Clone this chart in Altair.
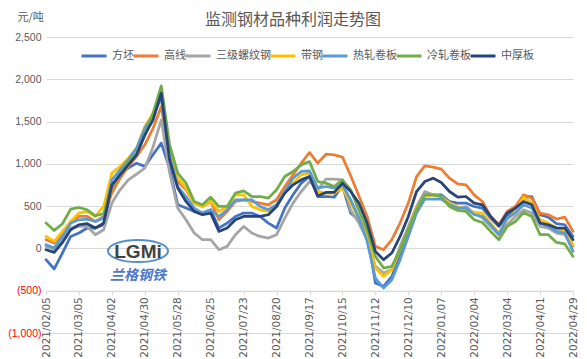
import altair as alt
import pandas as pd

# weekly dates 2021/02/05 .. 2022/04/29
dates = pd.date_range("2021-02-05", "2022-04-29", freq="7D").strftime("%Y/%m/%d").tolist()
tick_labels = ["2021/02/05", "2021/03/05", "2021/04/02", "2021/04/30", "2021/05/28",
               "2021/06/25", "2021/07/23", "2021/08/20", "2021/09/17", "2021/10/15",
               "2021/11/12", "2021/12/10", "2022/01/07", "2022/02/04", "2022/03/04",
               "2022/04/01", "2022/04/29"]
y_ticks = [-1000, -500, 0, 500, 1000, 1500, 2000, 2500]

series_names = ["方坯", "高线", "三级螺纹钢", "带钢", "热轧卷板", "冷轧卷板", "中厚板"]
colors = ["#4472C4", "#ED7D31", "#A5A5A5", "#FFC000", "#5B9BD5", "#70AD47", "#264478"]

fangpi = [-133, -243, -54, 142, 182, 241, 241, 280, 720, 890,
          949, 1008, 970, 1110, 1245, 950, 516, 477, 437, 418,
          457, 241, 300, 378, 418, 418, 378, 300, 241, 477,
          634, 772, 850, 614, 614, 607, 740, 418, 339, 182,
          -409, -449, -330, -94, 182, 457, 634, 634, 634, 555,
          536, 536, 496, 477, 359, 260, 378, 457, 614, 614,
          398, 370, 292, 280, 142]
gaoxian = [103, 64, 182, 300, 378, 378, 319, 378, 654, 831,
           968, 1087, 1225, 1420, 1677, 1100, 791, 693, 536, 496,
           555, 339, 437, 555, 575, 555, 536, 516, 575, 732,
           870, 1008, 1134, 1008, 1114, 1106, 1079, 860, 620, 378,
           24, -15, 103, 300, 536, 850, 977, 961, 937, 831,
           764, 752, 634, 555, 378, 280, 437, 496, 634, 595,
           418, 398, 347, 370, 201]
luowen = [24, -10, 123, 241, 260, 260, 162, 221, 536, 693,
          811, 880, 950, 1200, 1520, 900, 477, 339, 182, 103,
          103, -15, 24, 162, 260, 182, 142, 123, 162, 359,
          536, 673, 791, 693, 820, 820, 811, 450, 300, 103,
          -212, -291, -250, 24, 260, 496, 673, 634, 614, 536,
          477, 496, 418, 359, 260, 162, 280, 378, 457, 418,
          260, 241, 182, 162, 24]
daigang = [142, 83, 201, 319, 418, 437, 378, 496, 890, 968,
           1067, 1185, 1441, 1600, 1800, 1150, 831, 713, 536, 496,
           555, 437, 496, 634, 634, 496, 457, 437, 496, 673,
           772, 870, 890, 673, 654, 654, 713, 536, 360, 142,
           -232, -330, -251, -15, 221, 477, 614, 634, 614, 536,
           496, 457, 425, 418, 300, 182, 339, 437, 607, 536,
           339, 300, 241, 201, 44]
rezha = [44, 5, 142, 300, 339, 347, 319, 359, 811, 929,
         1047, 1185, 1420, 1570, 1780, 1100, 732, 614, 477, 418,
         457, 378, 457, 575, 575, 575, 496, 457, 516, 673,
         831, 910, 918, 713, 732, 713, 752, 575, 360, 83,
         -350, -468, -370, -133, 142, 418, 583, 583, 583, 516,
         477, 477, 398, 378, 280, 162, 359, 418, 516, 477,
         300, 260, 201, 182, -35]
lengzha = [300, 213, 292, 465, 484, 457, 386, 410, 732, 870,
           1027, 1126, 1330, 1600, 1921, 1230, 890, 772, 555, 516,
           607, 496, 496, 654, 681, 614, 614, 595, 693, 850,
           910, 988, 1027, 791, 772, 732, 811, 693, 450, 221,
           -94, -232, -212, -15, 221, 457, 634, 634, 614, 496,
           449, 437, 339, 307, 201, 103, 260, 319, 425, 378,
           162, 162, 71, 55, -94]
zhonghou = [-15, -47, 71, 221, 280, 292, 241, 300, 752, 870,
            988, 1106, 1343, 1520, 1835, 1050, 713, 555, 437, 398,
            418, 201, 241, 339, 378, 378, 378, 398, 496, 654,
            752, 811, 850, 622, 662, 662, 772, 673, 536, 300,
            -35, -133, -54, 142, 378, 673, 791, 831, 780, 673,
            607, 614, 536, 516, 378, 272, 418, 477, 555, 516,
            300, 280, 241, 241, 103]

all_series = [fangpi, gaoxian, luowen, daigang, rezha, lengzha, zhonghou]
rows = []
for name, vals in zip(series_names, all_series):
    for d, v in zip(dates, vals):
        rows.append({"date": d, "series": name, "value": v})
df = pd.DataFrame(rows)

GRAY = "#595959"
GRID = "#D9D9D9"
CJK = "Noto Sans CJK SC"

x_axis = alt.Axis(values=tick_labels, labelAngle=-90, labelFont="DejaVu Sans",
                  labelFontSize=10.5, labelColor=GRAY, labelPadding=2, tickSize=4,
                  tickColor=GRID, domainColor=GRID, grid=False, offset=-42.3,
                  title=None, labelOverlap=False)
y_axis = alt.Axis(values=y_ticks,
                  labelExpr="datum.value < 0 ? '(' + format(-datum.value, ',') + ')' : format(datum.value, ',') + '\u00a0'",
                  labelColor={"condition": {"test": "datum.value < 0", "value": "#FF0000"}, "value": GRAY},
                  labelFont="Liberation Sans", labelFontSize=10.5, labelPadding=5,
                  domain=False, ticks=False, gridColor=GRID, gridWidth=1,
                  title="元/吨", titleAngle=0, titleAlign="left", titleBaseline="middle",
                  titleX=-29, titleY=-20, titleFont=CJK, titleFontSize=11,
                  titleFontWeight="normal", titleColor=GRAY)

lines = alt.Chart(df).mark_line(strokeWidth=2.75, strokeJoin="round", strokeCap="round").encode(
    x=alt.X("date:O", scale=alt.Scale(type="point", padding=0, domain=dates), axis=x_axis),
    y=alt.Y("value:Q", scale=alt.Scale(domain=[-1000, 2500], nice=False, zero=False), axis=y_axis),
    color=alt.Color("series:N", scale=alt.Scale(domain=series_names, range=colors),
                    legend=alt.Legend(title=None, orient="none", legendX=34, legendY=5,
                                      direction="horizontal", columns=7, gridAlign="none",
                                      symbolType="stroke", symbolSize=625, symbolStrokeWidth=3,
                                      labelFont=CJK, labelFontSize=11, labelColor=GRAY,
                                      labelOffset=4, columnPadding=-7)),
)

logo_df = pd.DataFrame({"t": ["LGMi"]})
ellipse = alt.Chart(logo_df).mark_point(
    shape="M -1 0 A 1 0.37 0 1 1 1 0 A 1 0.37 0 1 1 -1 0 Z",
    filled=False, stroke="#2E75B6", strokeWidth=2, size=3600, opacity=0.8
).encode(x=alt.value(92), y=alt.value(214))
logo_text = alt.Chart(logo_df).mark_text(font="Liberation Sans", fontSize=19, fontWeight="bold",
                                         color="#222222", opacity=0.85).encode(
    x=alt.value(92), y=alt.value(215), text="t:N")
cn_df = pd.DataFrame({"t": ["兰格钢铁"]})
cn_text = alt.Chart(cn_df).mark_text(font=CJK, fontSize=14, fontWeight="bold", fontStyle="italic",
                                     color="#2F5FC4", opacity=0.85).encode(
    x=alt.value(92), y=alt.value(239), text="t:N")
title_df = pd.DataFrame({"t": ["监测钢材品种利润走势图"]})
title_text = alt.Chart(title_df).mark_text(font=CJK, fontSize=16, color=GRAY, baseline="middle",
                                           align="center").encode(
    x=alt.value(247), y=alt.value(-17), text="t:N")

chart = alt.layer(ellipse, logo_text, cn_text, lines, title_text).properties(
    width=527, height=296,
    autosize=alt.AutoSizeParams(type="none"),
    padding={"left": 38, "top": 29, "right": 6, "bottom": 30},
).configure_view(stroke=None)

chart.save("out.html", embed_options={"renderer": "svg", "actions": False})
